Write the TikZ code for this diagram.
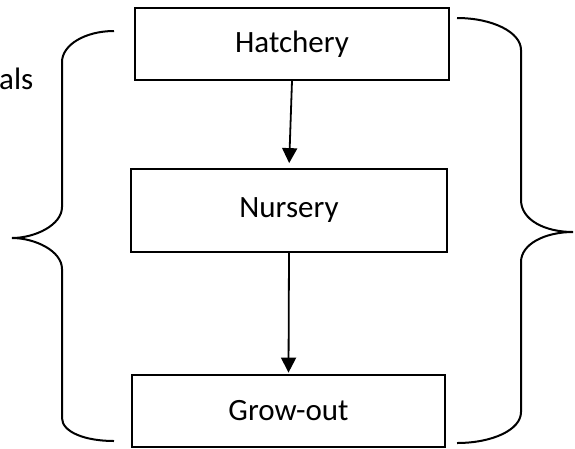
\documentclass[tikz,border=0pt]{standalone}
\usepackage{fontspec}
\setmainfont{Carlito}
\usetikzlibrary{arrows.meta}
\begin{document}
\begin{tikzpicture}[x=1pt,y=-1pt,
  stagebox/.style={draw,line width=1.8pt,inner sep=0pt,font=\fontsize{31}{34}\selectfont},
  brace/.style={line width=2pt},
  flow/.style={line width=1.8pt,-{Triangle[length=15pt,width=15pt]}}]
\useasboundingbox (0,0) rectangle (575,448);
\node[stagebox,minimum width=314pt,minimum height=72pt] (hatch) at (292,44) {Hatchery};
\node[stagebox,minimum width=316pt,minimum height=83pt] (nurs) at (289,210.5) {Nursery};
\node[stagebox,minimum width=313pt,minimum height=72pt] (grow) at (288.5,411) {Grow-out};
\draw[flow,shorten >=5pt] (hatch.south) -- (nurs.north);
\draw[flow,shorten >=1.5pt] (nurs.south) -- (grow.north);
\node[anchor=base west,inner sep=0pt,font=\fontsize{31}{34}\selectfont] (als) at (-1,89) {als};
\draw[brace] (114,31) .. controls (85,31) and (62,45) .. (62,62) -- (62,207)
  .. controls (62,225) and (35,238) .. (12,238)
  .. controls (35,238) and (62,251) .. (62,269) -- (62,418)
  .. controls (62,432) and (85,441) .. (114,441);
\draw[brace] (457,18) .. controls (492,18) and (521,32) .. (521,50) -- (521,200)
  .. controls (521,220) and (545,232) .. (573,232)
  .. controls (545,232) and (521,244) .. (521,262) -- (521,412)
  .. controls (521,430) and (492,443) .. (457,443);
\end{tikzpicture}
\end{document}
